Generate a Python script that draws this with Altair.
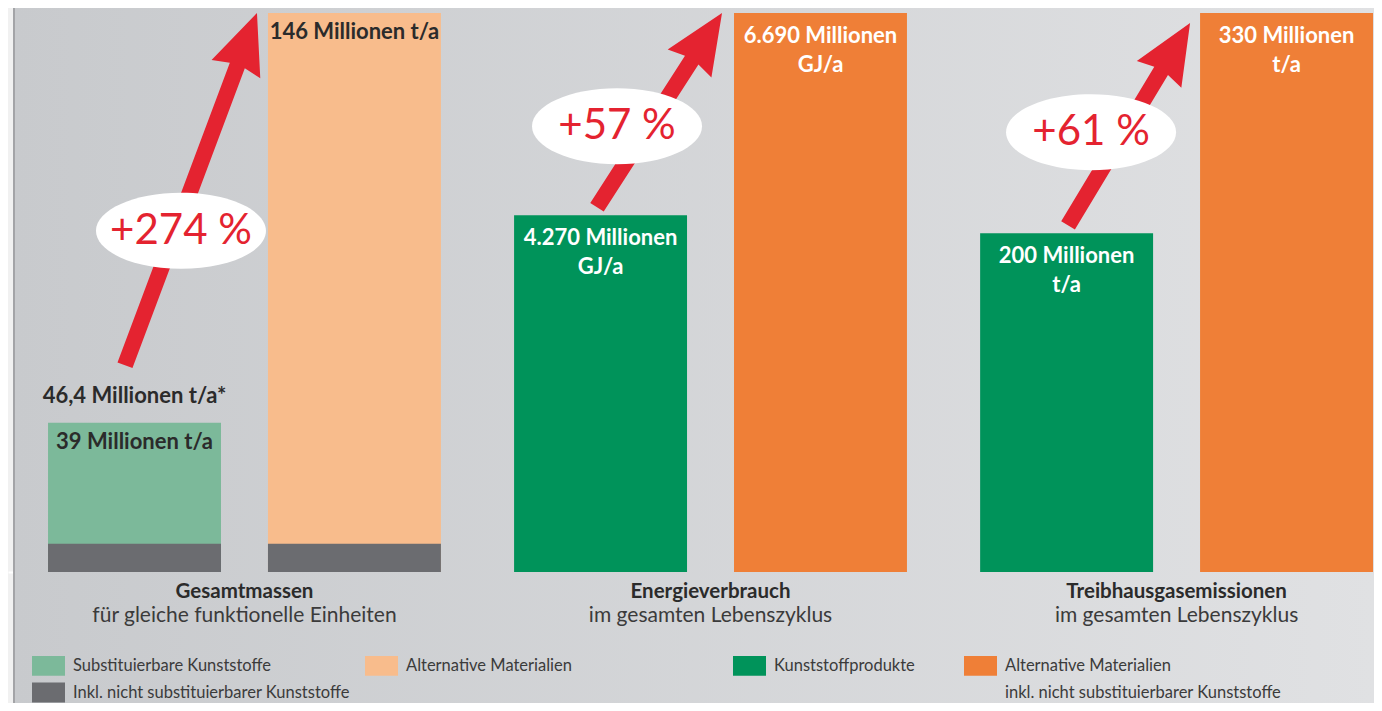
import math
import altair as alt
import pandas as pd

# ---------------- data ----------------
groups = ["Gesamtmassen", "Energieverbrauch", "Treibhausgasemissionen"]
subtitles = ["für gleiche funktionelle Einheiten", "im gesamten Lebenszyklus", "im gesamten Lebenszyklus"]
plastic_series = ["Substituierbare Kunststoffe", "Kunststoffprodukte", "Kunststoffprodukte"]
alternative_series = ["Alternative Materialien", "Alternative Materialien", "Alternative Materialien"]
plastic_values = [39, 4270, 200]
alternative_values = [146, 6690, 330]
plastic_labels = ["39 Millionen t/a", "4.270 Millionen\nGJ/a", "200 Millionen\nt/a"]
alternative_labels = ["146 Millionen t/a", "6.690 Millionen\nGJ/a", "330 Millionen\nt/a"]
increase_labels = ["+274 %", "+57 %", "+61 %"]
mass_total_value = 46.4
mass_total_label = "46,4 Millionen t/a*"
non_substitutable_value = 7.4          # 46,4 - 39 Millionen t/a
non_substitutable_series = "Inkl. nicht substituierbarer Kunststoffe"

legend_a_domain = ["Substituierbare Kunststoffe", "Alternative Materialien", "Inkl. nicht substituierbarer Kunststoffe"]
legend_b_domain = ["Kunststoffprodukte", "Alternative Materialien", " ", "inkl. nicht substituierbarer Kunststoffe"]

# ---------------- style ----------------
W, H = 1366, 564
YMAX = 1.009
FONT = "Lato"
RED = "#e42330"
DARK = "#2b2b2b"
legend_a_range = ["#7cb99a", "#f8bc8c", "#6b6c70"]
legend_b_range = ["#00935a", "#ef7f37", "transparent", "transparent"]
RECT_PATH = "M-1,-0.6L1,-0.6L1,0.6L-1,0.6Z"
VAL_SIZE = 22

# per-arrow layout (pixel offsets relative to group centre / anchor values)
arrow_style = [
    dict(tail_dx=-119.5, tail_dy=-29, tip_dx=12.5, tip_dy=0, ell_dx=-63.5, ell_dy=13),
    dict(tail_dx=-113.5, tail_dy=-8, tip_dx=11.5, tip_dy=0, ell_dx=-93.5, ell_dy=12),
    dict(tail_dx=-108.5, tail_dy=-8, tip_dx=13.5, tip_dy=10, ell_dx=-85.5, ell_dy=9),
]
SHAFT = 16
HEAD_LEN, HEAD_HALF = 60, 26


def ypx(n):
    return H - n / YMAX * H


# ---------------- tables ----------------
bar_rows, arrow_rows = [], []
for i, g in enumerate(groups):
    gmax = max(plastic_values[i], alternative_values[i])
    bar_rows.append(dict(group=g, slot="a", series=plastic_series[i], value=plastic_values[i],
                         norm=plastic_values[i] / gmax, label=plastic_labels[i]))
    bar_rows.append(dict(group=g, slot="b", series=alternative_series[i], value=alternative_values[i],
                         norm=alternative_values[i] / gmax, label=alternative_labels[i]))
    tail_value = mass_total_value if i == 0 else plastic_values[i]
    arrow_rows.append(dict(group=g, tail=tail_value / gmax, tip=alternative_values[i] / gmax,
                           mid=(plastic_values[i] + alternative_values[i]) / 2 / gmax,
                           label=increase_labels[i]))
bars = pd.DataFrame(bar_rows)
mass = bars[bars.group == groups[0]]
other = bars[bars.group != groups[0]]
gmax0 = max(plastic_values[0], alternative_values[0])
gray = pd.DataFrame(dict(group=[groups[0]] * 2, slot=["a", "b"],
                         series=[non_substitutable_series] * 2,
                         norm=[non_substitutable_value / gmax0] * 2))
total = pd.DataFrame(dict(group=[groups[0]], slot=["a"], norm=[mass_total_value / gmax0],
                          label=[mass_total_label]))
cats = pd.DataFrame(dict(group=groups, subtitle=subtitles))
arrows = pd.DataFrame(arrow_rows)

# ---------------- encodings ----------------
x_scale = alt.Scale(paddingInner=0.157, paddingOuter=0.044, align=0.976)
x_enc = alt.X("group:N", sort=groups, scale=x_scale,
              axis=alt.Axis(labels=False, ticks=False, title=None, domainColor="white",
                            domainWidth=2, grid=False))
xo_enc = alt.XOffset("slot:N", scale=alt.Scale(paddingInner=0.2136, paddingOuter=0))
y_scale = alt.Scale(domain=[0, YMAX])


def Y(field):
    return alt.Y(field, type="quantitative", scale=y_scale, axis=None)


def make_legend(x, pad):
    return alt.Legend(title=None, orient="none", legendX=x, legendY=641, columns=2,
                      direction="horizontal", columnPadding=pad, rowPadding=-10,
                      symbolType=RECT_PATH, symbolSize=1089, symbolStrokeWidth=0,
                      labelFont=FONT, labelFontSize=16.5, labelColor="#3b3b3b",
                      labelOffset=8, labelLimit=500)


color_a = alt.Color("series:N", scale=alt.Scale(domain=legend_a_domain, range=legend_a_range),
                    legend=make_legend(24, 15))
color_b = alt.Color("series:N", scale=alt.Scale(domain=legend_b_domain, range=legend_b_range),
                    legend=make_legend(725, 49))

# ---------------- background ----------------
one = pd.DataFrame({"k": [0]})
gradient = alt.LinearGradient(gradient="linear", x1=0, x2=1, y1=0, y2=0,
                              stops=[alt.GradientStop(color="#c8cacd", offset=0),
                                     alt.GradientStop(color="#e0e1e3", offset=1)])
bg = alt.Chart(one).mark_rect(color=gradient).encode(
    x=alt.value(7), x2=alt.value(W), y=alt.value(0), y2=alt.value(H + 131))
edge = alt.Chart(one).mark_rect(color="#a3a4a7").encode(
    x=alt.value(5), x2=alt.value(7), y=alt.value(0), y2=alt.value(H + 131))

# ---------------- bars ----------------
mass_bars = alt.Chart(mass).mark_bar().encode(x=x_enc, xOffset=xo_enc, y=Y("norm"), color=color_a)
gray_bars = alt.Chart(gray).mark_bar().encode(x=x_enc, xOffset=xo_enc, y=Y("norm"), color=color_a)
other_bars = alt.Chart(other).mark_bar().encode(x=x_enc, xOffset=xo_enc, y=Y("norm"), color=color_b)

mass_text = alt.Chart(mass).mark_text(baseline="top", dy=9, font=FONT, fontSize=VAL_SIZE,
                                      fontWeight="bold", color=DARK).encode(
    x=x_enc, xOffset=xo_enc, y=Y("norm"), text="label:N")
total_text = alt.Chart(total).mark_text(baseline="alphabetic", dy=9, font=FONT, fontSize=VAL_SIZE,
                                        fontWeight="bold", color=DARK).encode(
    x=x_enc, xOffset=xo_enc, y=Y("norm"), text="label:N")
other_text = alt.Chart(other).mark_text(baseline="top", dy=13, font=FONT, fontSize=VAL_SIZE,
                                        fontWeight="bold", color="white", lineBreak="\n",
                                        lineHeight=29).encode(
    x=x_enc, xOffset=xo_enc, y=Y("norm"), text="label:N")

# ---------------- arrows + ellipses ----------------
annot = []
for i, g in enumerate(groups):
    st = arrow_style[i]
    r = arrows.iloc[i]
    tx, ty = st["tail_dx"], ypx(r["tail"]) + st["tail_dy"]
    hx, hy = st["tip_dx"], ypx(r["tip"]) + st["tip_dy"]
    vx, vy = hx - tx, hy - ty
    L = math.hypot(vx, vy)
    ang = math.degrees(math.atan2(vx, -vy)) % 360
    s = SHAFT / 2
    path = (f"M0,0L{HEAD_HALF},{HEAD_LEN}L{s},{HEAD_LEN - 4}L{s},{L:.1f}"
            f"L{-s},{L:.1f}L{-s},{HEAD_LEN - 4}L{-HEAD_HALF},{HEAD_LEN}Z")
    sub = arrows[arrows.group == g]
    annot.append(alt.Chart(sub).mark_point(shape=path, size=4, angle=ang, filled=True, fill=RED,
                                           strokeWidth=0, opacity=1, xOffset=hx,
                                           yOffset=st["tip_dy"]).encode(x=x_enc, y=Y("tip")))
    ell = "M-85,0A85,38,0,1,1,85,0A85,38,0,1,1,-85,0Z"
    annot.append(alt.Chart(sub).mark_point(shape=ell, size=4, filled=True, fill="white",
                                           strokeWidth=0, opacity=1, xOffset=st["ell_dx"],
                                           yOffset=st["ell_dy"]).encode(x=x_enc, y=Y("mid")))
    annot.append(alt.Chart(sub).mark_text(font=FONT, fontSize=42, color=RED, baseline="middle",
                                          xOffset=st["ell_dx"], yOffset=st["ell_dy"]).encode(
        x=x_enc, y=Y("mid"), text="label:N"))

# ---------------- category labels ----------------
cat_bold = alt.Chart(cats).mark_text(font=FONT, fontSize=20.5, fontWeight="bold", color=DARK,
                                     baseline="alphabetic").encode(
    x=x_enc, y=alt.value(H + 26), text="group:N")
cat_sub = alt.Chart(cats).mark_text(font=FONT, fontSize=21, color="#3b3b3b",
                                    baseline="alphabetic").encode(
    x=x_enc, y=alt.value(H + 50), text="subtitle:N")

chart = alt.layer(
    bg, edge,
    alt.layer(mass_bars, gray_bars),
    other_bars,
    mass_text, total_text, other_text,
    *annot,
    cat_bold, cat_sub,
).resolve_scale(color="independent").properties(
    width=W, height=H,
    autosize=alt.AutoSizeParams(type="none"),
    padding={"left": 0, "top": 0, "right": 0, "bottom": 131},
).configure(background="#f1f1f1").configure_view(stroke=None)

chart.save("out.html", embed_options={"renderer": "svg", "actions": False})
